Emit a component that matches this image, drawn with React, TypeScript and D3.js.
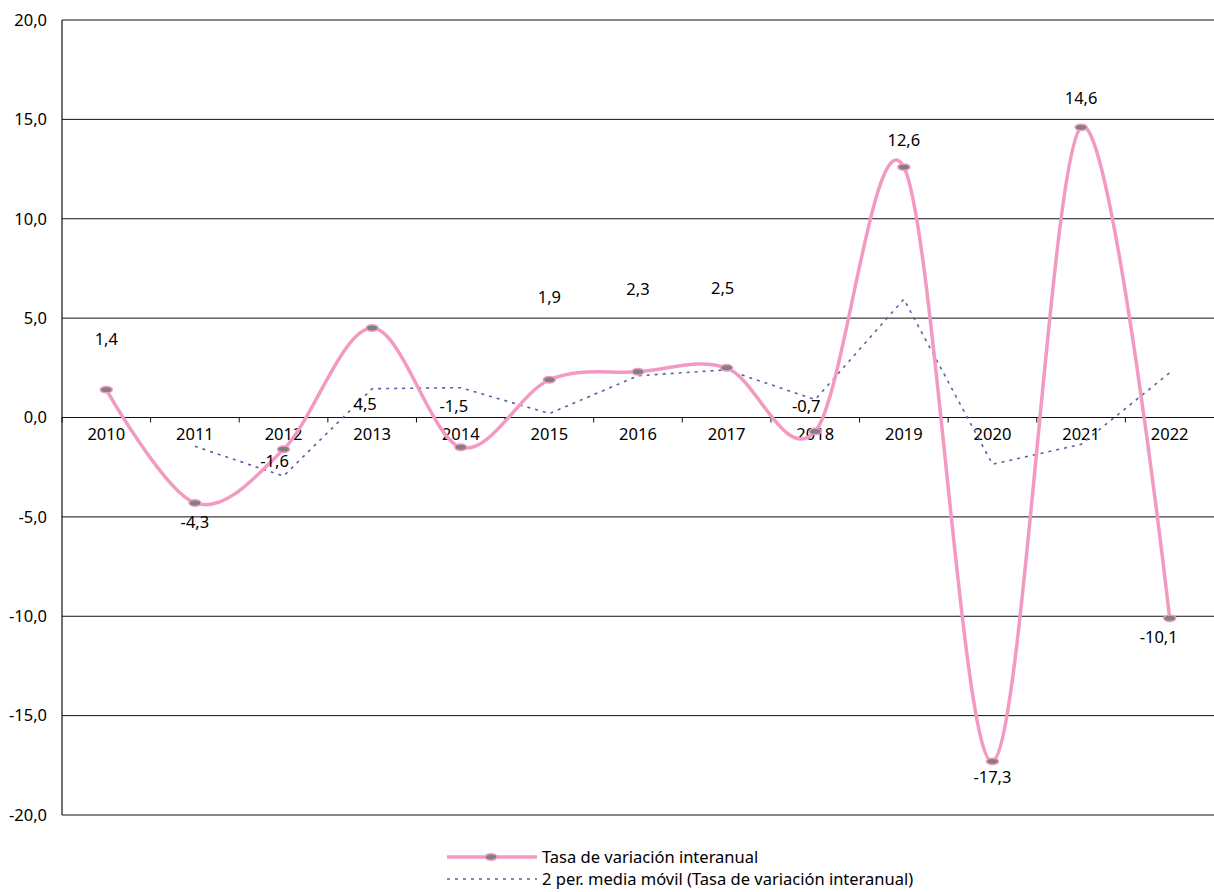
import React from 'react';
import * as d3 from 'd3';

const years = ['2010', '2011', '2012', '2013', '2014', '2015', '2016', '2017', '2018', '2019', '2020', '2021', '2022'];
const tasa = [1.4, -4.3, -1.6, 4.5, -1.5, 1.9, 2.3, 2.5, -0.7, 12.6, -17.3, 14.6, -10.1];
// moving average values (no value for 2010)
const media: (number | null)[] = [null, -1.45, -2.95, 1.45, 1.5, 0.2, 2.1, 2.4, 0.9, 5.95, -2.35, -1.35, 2.25];
const yTicks = [20, 15, 10, 5, 0, -5, -10, -15, -20];
// label placement offsets (px) relative to each marker
const labelDx = [0, 0, -9, -7, -7, 0, 0, -4, -9, 0, 0, 0, -11];
const labelDy = [-50, 19, 12, 76, -41, -83, -83, -80, -25, -27, 16, -29, 19];

const W = 1214;
const H = 892;
const left = 62;
const right = 1214;
const top = 20;
const bottom = 815;
const PINK = '#f29ac2';
const DASH = '#5c5ea8';
const FONT = '"Noto Sans", sans-serif';
const FS = 16.5;

const fmt = (v: number) => d3.format('.1f')(v).replace('.', ',').replace('\u2212', '-');

const App: React.FC = () => {
  const x = d3.scaleBand<string>().domain(years).range([left, right]);
  const y = d3.scaleLinear().domain([-20, 20]).range([bottom, top]);
  const cx = (i: number) => (x(years[i]) as number) + x.bandwidth() / 2;

  const line = d3.line<number>()
    .x((_, i) => cx(i))
    .y(d => y(d))
    .curve(d3.curveCardinal.tension(0));

  const mediaPts = media
    .map((v, i) => ({ v, i }))
    .filter(d => d.v !== null) as { v: number; i: number }[];
  const dashLine = d3.line<{ v: number; i: number }>()
    .x(d => cx(d.i))
    .y(d => y(d.v));

  return (
    <svg width={W} height={H} style={{ position: 'absolute', left: 0, top: 0, background: '#fff' }}
      fontFamily={FONT}>
      {yTicks.map(t => (
        <g key={t}>
          <line x1={left} x2={right} y1={y(t)} y2={y(t)} stroke="#111" strokeWidth={1} />
          <text x={47} y={y(t)} dy="0.35em" textAnchor="end" fontSize={FS} fill="#000">{fmt(t)}</text>
        </g>
      ))}
      <line x1={left} x2={left} y1={top} y2={bottom} stroke="#111" strokeWidth={1.2} />
      {years.map(yr => (
        <line key={'tk' + yr} x1={x(yr) as number} x2={x(yr) as number} y1={y(0)} y2={y(0) + 5} stroke="#111" />
      ))}
      {years.map((yr, i) => (
        <text key={'yl' + yr} x={cx(i)} y={y(0) + 17} dy="0.35em" textAnchor="middle" fontSize={FS} fill="#000">{yr}</text>
      ))}

      <path d={dashLine(mediaPts) || ''} fill="none" stroke={DASH} strokeWidth={1.6} strokeDasharray="3,5" />
      <path d={line(tasa) || ''} fill="none" stroke={PINK} strokeWidth={3.5} />
      {tasa.map((v, i) => (
        <ellipse key={'m' + i} cx={cx(i)} cy={y(v)} rx={6} ry={3.2} fill="#808080" stroke={PINK} strokeWidth={1.5} />
      ))}
      {tasa.map((v, i) => (
        <text key={'lb' + i} x={cx(i) + labelDx[i]} y={y(v) + labelDy[i]} dy="0.35em" textAnchor="middle"
          fontSize={FS} fill="#000">{fmt(v)}</text>
      ))}

      <g transform="translate(447,857)">
        <line x1={0} x2={90} y1={0} y2={0} stroke={PINK} strokeWidth={3.5} />
        <ellipse cx={44} cy={0} rx={6} ry={3.2} fill="#808080" stroke={PINK} strokeWidth={1.5} />
        <text x={95} y={0} dy="0.35em" fontSize={FS} fill="#000">Tasa de variación interanual</text>
      </g>
      <g transform="translate(447,879)">
        <line x1={0} x2={90} y1={0} y2={0} stroke={DASH} strokeWidth={1.6} strokeDasharray="3,5" />
        <text x={95} y={0} dy="0.35em" fontSize={FS} fill="#000">2 per. media móvil (Tasa de variación interanual)</text>
      </g>
    </svg>
  );
};

export default App;
